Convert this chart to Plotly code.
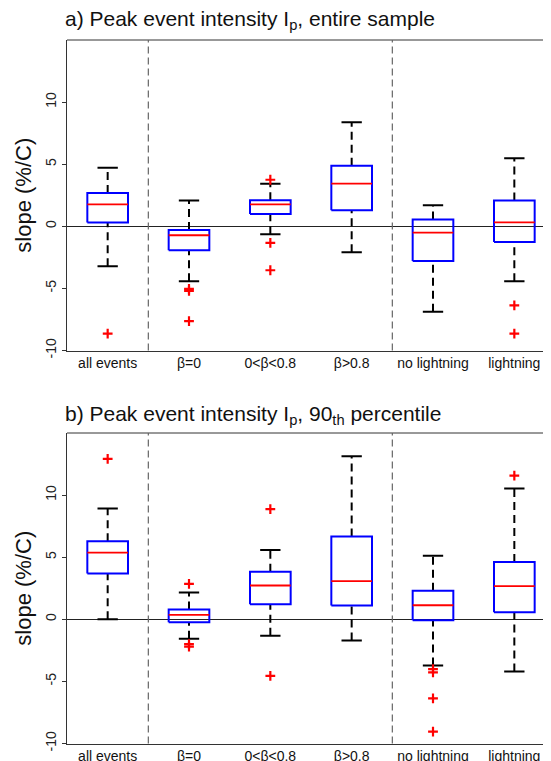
import plotly.graph_objects as go

categories = ["all events", "β=0", "0<β<0.8", "β>0.8", "no lightning", "lightning"]

# Panel a) entire sample
a_lo = [-3.22, -4.42, -0.64, -2.09, -6.89, -4.42]
a_q1 = [0.30, -1.93, 0.99, 1.29, -2.79, -1.26]
a_med = [1.77, -0.72, 1.77, 3.43, -0.51, 0.32]
a_q3 = [2.68, -0.30, 2.09, 4.88, 0.54, 2.07]
a_hi = [4.72, 2.07, 3.43, 8.37, 1.69, 5.47]
a_out = [[-8.64], [-5.04, -5.2, -7.64], [3.75, -1.34, -3.54], [], [], [-6.36, -8.64]]

# Panel b) 90th percentile
b_lo = [0.0, -1.56, -1.32, -1.70, -3.72, -4.20]
b_q1 = [3.69, -0.24, 1.21, 1.11, -0.08, 0.57]
b_med = [5.37, 0.35, 2.72, 3.07, 1.13, 2.67]
b_q3 = [6.28, 0.78, 3.83, 6.66, 2.29, 4.61]
b_hi = [8.92, 2.16, 5.58, 13.13, 5.12, 10.54]
b_out = [[12.91], [2.86, -2.0, -2.2], [8.87, -4.55], [], [-4.01, -4.28, -6.36, -9.05], [11.56]]

titles = ["a) Peak event intensity I<sub>p</sub>, entire sample",
          "b) Peak event intensity I<sub>p</sub>, 90<sub>th</sub> percentile"]
yticks = [-10, -5, 0, 5, 10]
separators = [1.5, 4.5]

FONT = "Liberation Sans, Arial, Helvetica, sans-serif"
W = 551
H = 761
OFF = 8     # page body margin offset
BW = 0.25   # half box width
CW = 0.125  # half cap width

fig = go.Figure()


def add_panel(fig, lo, q1, med, q3, hi, outs, xa, ya):
    bx, by, mx, my, wx, wy, cx, cy, ox, oy = [], [], [], [], [], [], [], [], [], []
    for i in range(len(categories)):
        p = i + 1
        bx += [p - BW, p + BW, p + BW, p - BW, p - BW, None]
        by += [q1[i], q1[i], q3[i], q3[i], q1[i], None]
        mx += [p - BW, p + BW, None]
        my += [med[i], med[i], None]
        wx += [p, p, None, p, p, None]
        wy += [q3[i], hi[i], None, lo[i], q1[i], None]
        cx += [p - CW, p + CW, None, p - CW, p + CW, None]
        cy += [hi[i], hi[i], None, lo[i], lo[i], None]
        for v in outs[i]:
            ox.append(p)
            oy.append(v)
    common = dict(xaxis=xa, yaxis=ya, showlegend=False, hoverinfo="skip")
    fig.add_trace(go.Scatter(x=wx, y=wy, mode="lines",
                             line=dict(color="black", width=2, dash="8px,5px"), **common))
    fig.add_trace(go.Scatter(x=cx, y=cy, mode="lines",
                             line=dict(color="black", width=2), **common))
    fig.add_trace(go.Scatter(x=bx, y=by, mode="lines",
                             line=dict(color="#0000ff", width=2), **common))
    fig.add_trace(go.Scatter(x=mx, y=my, mode="lines",
                             line=dict(color="#ff0000", width=1.8), **common))
    fig.add_trace(go.Scatter(x=ox, y=oy, mode="markers",
                             marker=dict(symbol="cross-thin", size=7,
                                         line=dict(color="#ff0000", width=2.2)),
                             **common))


add_panel(fig, a_lo, a_q1, a_med, a_q3, a_hi, a_out, "x", "y")
add_panel(fig, b_lo, b_q1, b_med, b_q3, b_hi, b_out, "x2", "y2")

x_left = (67 - OFF) / W
x_right = (555 - OFF) / W
top_dom = [1 - (350.5 - OFF) / H, 1 - (40 - OFF) / H]
bot_dom = [1 - (743.5 - OFF) / H, 1 - (433 - OFF) / H]

xcommon = dict(range=[0.5, 6.5], domain=[x_left, x_right], tickmode="array",
               tickvals=list(range(1, len(categories) + 1)), ticktext=categories,
               showline=True, linecolor="#333", linewidth=1, ticks="",
               showgrid=False, zeroline=False, mirror=False,
               tickfont=dict(family=FONT, size=14, color="#111"), fixedrange=True)
ycommon = dict(range=[-10, 15], tickmode="array", tickvals=yticks,
               ticktext=[str(v) for v in yticks], tickangle=-90,
               showline=True, linecolor="#333", linewidth=1, ticks="outside",
               ticklen=4, tickcolor="#333", showgrid=False,
               zeroline=True, zerolinecolor="#222", zerolinewidth=1,
               tickfont=dict(family=FONT, size=14, color="#222"),
               title=dict(text="slope (%/C)", font=dict(family=FONT, size=22, color="#111"),
                          standoff=5),
               fixedrange=True)

fig.update_layout(
    width=W, height=H,
    margin=dict(l=0, r=0, t=0, b=0, autoexpand=False),
    paper_bgcolor="white", plot_bgcolor="white",
    xaxis=dict(anchor="y", **xcommon),
    yaxis=dict(anchor="x", domain=top_dom, **ycommon),
    xaxis2=dict(anchor="y2", **xcommon),
    yaxis2=dict(anchor="x2", domain=bot_dom, **ycommon),
)

shapes = []
plot_w = (x_right - x_left) * W
for xa, ya in [("x", "y"), ("x2", "y2")]:
    # top border
    shapes.append(dict(type="line", xref=f"{xa} domain", yref=f"{ya} domain",
                       x0=0, x1=1, y0=1, y1=1, line=dict(color="#333", width=1)))
    # right border (off-screen in the reference crop)
    shapes.append(dict(type="line", xref=f"{xa} domain", yref=f"{ya} domain",
                       x0=1, x1=1, y0=0, y1=1, line=dict(color="#333", width=1)))
    # right-side ticks
    for v in yticks:
        shapes.append(dict(type="line", xref=f"{xa} domain", yref=ya,
                           x0=1 - 6 / plot_w, x1=1, y0=v, y1=v,
                           line=dict(color="#333", width=1)))
    # group separators
    for s in separators:
        shapes.append(dict(type="line", xref=xa, yref=f"{ya} domain",
                           x0=s, x1=s, y0=0, y1=1,
                           line=dict(color="#666", width=1.2, dash="7px,4px")))
fig.update_layout(shapes=shapes)

fig.add_annotation(text=titles[0], xref="paper", yref="paper", x=(63 - OFF) / W,
                   y=1 - (20 - OFF) / H,
                   xanchor="left", yanchor="middle", showarrow=False,
                   font=dict(family=FONT, size=21, color="#111"))
fig.add_annotation(text=titles[1], xref="paper", yref="paper", x=(63 - OFF) / W,
                   y=1 - (415 - OFF) / H,
                   xanchor="left", yanchor="middle", showarrow=False,
                   font=dict(family=FONT, size=21, color="#111"))

fig.write_html("out.html")
